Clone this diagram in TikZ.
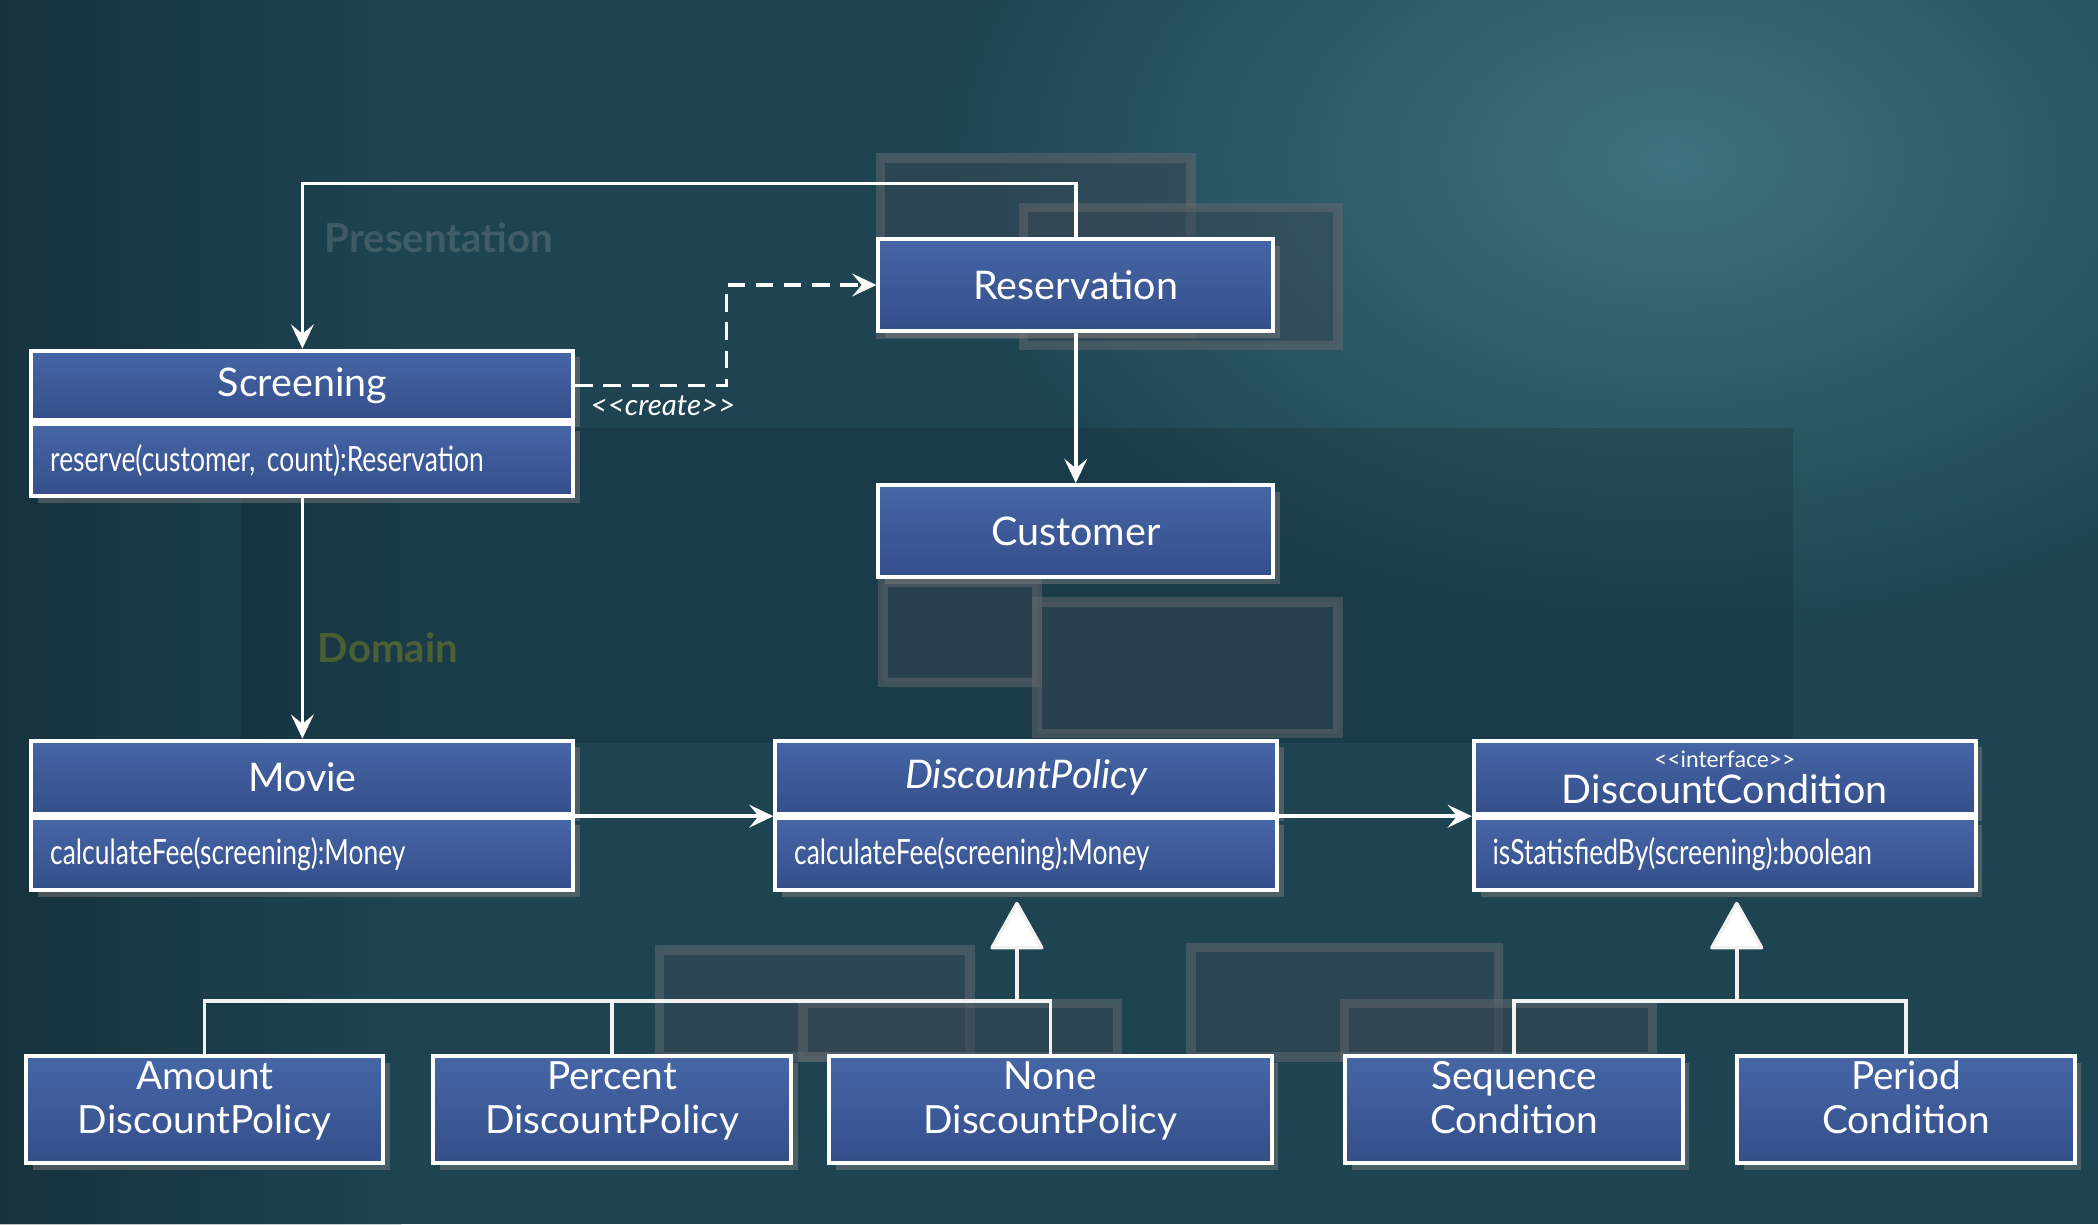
\documentclass[tikz,border=0pt]{standalone}
\usepackage{fontspec}
\setmainfont{Lato}
\newfontfamily\opsfont[FakeStretch=0.76]{Lato}
\usetikzlibrary{positioning,arrows.meta,shadows}

\definecolor{bgteal}{RGB}{30,68,82}
\definecolor{bgglow}{RGB}{66,118,132}
\definecolor{boxtop}{RGB}{70,102,166}
\definecolor{boxbot}{RGB}{52,78,138}
\definecolor{ghostfill}{RGB}{56,70,84}
\definecolor{ghostline}{RGB}{100,106,112}

\tikzset{
  classbox/.style={rectangle, draw=white, line width=3pt, top color=boxtop, bottom color=boxbot,
    text=white, font=\fontsize{29.5}{33}\selectfont, align=center,
    drop shadow={opacity=0.45, shadow xshift=5pt, shadow yshift=-5pt}},
  opsbox/.style={classbox, font=\opsfont\fontsize{26}{30}\selectfont, align=left, text width=#1, inner xsep=14pt},
  plainbox/.style={classbox, minimum width=295pt, minimum height=69pt},
  leafbox/.style={classbox, minimum height=80pt, font=\fontsize{29}{33}\selectfont, inner ysep=1pt,
    execute at end node={\rule[-19pt]{0pt}{19pt}}},
  ghost/.style={draw=ghostline, fill=ghostfill, line width=7pt, opacity=0.5},
  ghosttext/.style={font=\bfseries\fontsize{30}{30}\selectfont, opacity=0.25},
  assoc/.style={draw=white, line width=2.6pt, -{Stealth[length=18pt,width=17pt,inset=7pt]}},
  inherit/.style={draw=white!90!gray, line width=2.6pt},
  gentri/.style={inherit, -{Triangle[length=37pt,width=41pt,fill=white,round]}, shorten >=7pt}
}

\begin{document}
\begin{tikzpicture}[x=1pt, y=1pt]
\useasboundingbox (0,0) rectangle (1568,-915);
% background
\begin{scope}
\clip (0,0) rectangle (1568,-915);
\fill[bgteal] (0,0) rectangle (1568,-915);
\shade[inner color=bgglow, outer color=bgteal, opacity=0.9] (1250,-120) ellipse (560 and 360);
\shade[left color=black, right color=bgteal, opacity=0.25] (0,0) rectangle (300,-915);
\end{scope}

% faded layer boxes behind the diagram
\fill[black, opacity=0.12] (180,-320) rectangle (1340,-555);
\draw[ghost] (658,-118) rectangle (890,-250);
\draw[ghost] (765,-155) rectangle (1000,-258);
\draw[ghost] (660,-435) rectangle (775,-510);
\draw[ghost] (775,-450) rectangle (1000,-548);
\draw[ghost] (493,-710) rectangle (725,-790);
\draw[ghost] (600,-750) rectangle (835,-790);
\draw[ghost] (890,-708) rectangle (1120,-790);
\draw[ghost] (1005,-750) rectangle (1235,-790);
\node[ghosttext, text=gray!70] (presentation) at (328,-178) {Presentation};
\node[ghosttext, text=yellow!70!olive] (domain) at (290,-484) {Domain};

% classes
\node[plainbox] (reservation) at (804,-213) {Reservation};
\node[plainbox, below of=reservation, node distance=184pt] (customer) {Customer};

\node[classbox, minimum width=405pt, minimum height=52pt] (screeninghead) at (226,-288) {Screening};
\node[opsbox=377pt, minimum height=54pt, below=0pt of screeninghead] (screeningops) {reserve(customer, count):Reservation};

\node[classbox, minimum width=405pt, minimum height=55pt] (moviehead) at (226,-581) {Movie};
\node[opsbox=377pt, minimum height=54pt, below=0pt of moviehead] (movieops) {calculateFee(screening):Money};

\node[classbox, minimum width=375pt, minimum height=55pt] (policyhead) at (767,-581) {\itshape DiscountPolicy};
\node[opsbox=347pt, minimum height=54pt, below=0pt of policyhead] (policyops) {calculateFee(screening):Money};

\node[classbox, minimum width=375pt, minimum height=55pt, inner ysep=0pt] (conditionhead) at (1289,-581)
  {{\fontsize{17}{17}\selectfont <{}<interface>{}>}\\[-6pt]DiscountCondition};
\node[opsbox=347pt, minimum height=54pt, below=0pt of conditionhead] (conditionops) {isStatisfiedBy(screening):boolean};

\node[leafbox, minimum width=267pt] (amount) at (153,-829.5) {Amount\\DiscountPolicy};
\node[leafbox, minimum width=268pt, right of=amount, node distance=304.5pt] (percent) {Percent\\DiscountPolicy};
\node[leafbox, minimum width=331pt, right of=percent, node distance=327.5pt] (none) {None\\DiscountPolicy};
\node[leafbox, minimum width=252pt, right of=none, node distance=346.5pt] (sequence) {Sequence\\Condition};
\node[leafbox, minimum width=252pt, right of=sequence, node distance=293pt] (period) {Period\\Condition};

% associations
\draw[assoc] (reservation.north) -- ++(0,40) -| (screeninghead.north);
\draw[assoc, dash pattern=on 13pt off 8pt] (screeninghead.east)
  -- node[below=3pt, xshift=9pt, text=white, font=\itshape\fontsize{22}{22}\selectfont] (createlabel) {<{}<create>{}>} ++(113,0)
  |- (reservation.west);
\draw[assoc] (reservation) -- (customer);
\draw[assoc] (screeningops) -- (moviehead);
\draw[assoc] (movieops.north east) -- (policyops.north west);
\draw[assoc] (policyops.north east) -- (conditionops.north west);

% generalizations
\coordinate (policybus) at (760,-748);
\draw[inherit] (amount.north) |- (policybus);
\draw[inherit] (percent.north) |- (policybus);
\draw[inherit] (none.north) |- (policybus);
\draw[gentri] (policybus) -- (policybus |- policyops.south);

\coordinate (conditionbus) at (1298,-748);
\draw[inherit] (sequence.north) |- (conditionbus);
\draw[inherit] (period.north) |- (conditionbus);
\draw[gentri] (conditionbus) -- (conditionbus |- conditionops.south);
\end{tikzpicture}
\end{document}
